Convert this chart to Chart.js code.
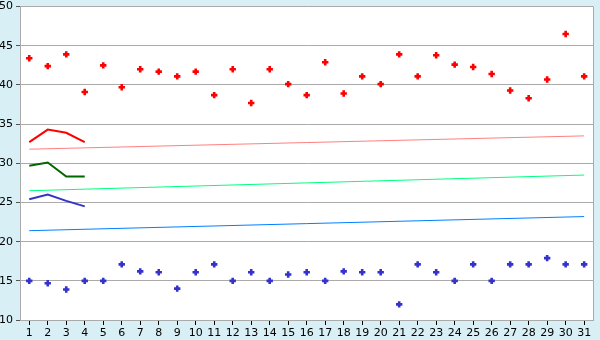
<!DOCTYPE html>
<html lang="en">
<head>
    <meta charset="UTF-8">
    <title>Daily readings</title>
    <script src="https://cdn.jsdelivr.net/npm/chart.js"></script>
    <style>
        html, body { margin: 0; padding: 0; background: #d8eff5; }
        #wrap { width: 600px; height: 340px; }
    </style>
</head>
<body>
    <div id="wrap"><canvas id="chart" width="600" height="340"></canvas></div>

    <script>
        // days along the bottom
        var days = [];
        for (var d = 1; d <= 31; d++) days.push(String(d));

        // scattered daily highs and lows
        var highs = [43.4, 42.4, 43.9, 39.1, 42.5, 39.7, 42.0, 41.7, 41.1, 41.7,
                     38.7, 42.0, 37.7, 42.0, 40.1, 38.7, 42.9, 38.9, 41.1, 40.1,
                     43.9, 41.1, 43.8, 42.6, 42.3, 41.4, 39.3, 38.3, 40.7, 46.5, 41.1];
        var lows = [15.0, 14.7, 13.9, 15.0, 15.0, 17.1, 16.2, 16.1, 14.0, 16.1,
                    17.1, 15.0, 16.1, 15.0, 15.8, 16.1, 15.0, 16.2, 16.1, 16.1,
                    12.0, 17.1, 16.1, 15.0, 17.1, 15.0, 17.1, 17.1, 17.9, 17.1, 17.1];

        // first four days of the running lines
        var redLine = [32.7, 34.3, 33.9, 32.7];
        var greenLine = [29.7, 30.1, 28.3, 28.3];
        var blueLine = [25.4, 26.0, 25.2, 24.5];

        // trend lines: value at day 1 and at day 31
        var pinkTrend = [31.8, 33.5];
        var mintTrend = [26.5, 28.5];
        var skyTrend = [21.4, 23.2];

        var yTicks = [10, 15, 20, 25, 30, 35, 40, 45, 50];

        function ends(pair) {
            return [{ x: days[0], y: pair[0] }, { x: days[days.length - 1], y: pair[1] }];
        }

        var frame = {
            id: 'frame',
            beforeDraw: function (chart) {
                var a = chart.chartArea, c = chart.ctx;
                c.save();
                c.fillStyle = '#ffffff';
                c.fillRect(a.left, a.top, a.right - a.left, a.bottom - a.top);
                c.restore();
            },
            afterDraw: function (chart) {
                var a = chart.chartArea, c = chart.ctx;
                c.save();
                c.strokeStyle = '#aaaaaa';
                c.lineWidth = 1;
                c.beginPath();
                c.moveTo(Math.round(a.right) + 0.5, a.top);
                c.lineTo(Math.round(a.right) + 0.5, a.bottom);
                c.stroke();
                c.restore();
            }
        };

        function thinLine(data, color) {
            return { type: 'line', data: data, borderColor: color, borderWidth: 1,
                     pointRadius: 0, fill: false, order: 5 };
        }
        function thickLine(data, color) {
            return { type: 'line', data: data, borderColor: color, borderWidth: 2,
                     pointRadius: 0, fill: false, order: 3 };
        }
        function dots(data, color) {
            return { type: 'line', data: data, showLine: false, pointStyle: 'cross',
                     pointRadius: 3.2, pointBorderWidth: 2.6, borderColor: color,
                     backgroundColor: color, order: 1 };
        }

        new Chart(document.getElementById('chart').getContext('2d'), {
            type: 'line',
            data: {
                labels: days,
                datasets: [
                    dots(highs, '#ff0000'),
                    dots(lows, '#3333cc'),
                    thickLine(redLine, '#ff0000'),
                    thickLine(greenLine, '#006600'),
                    thickLine(blueLine, '#3333cc'),
                    thinLine(ends(pinkTrend), '#ff8080'),
                    thinLine(ends(mintTrend), '#00ff80'),
                    thinLine(ends(skyTrend), '#0080ff')
                ]
            },
            options: {
                responsive: false,
                animation: false,
                layout: { padding: { top: 5, right: 3, left: 0, bottom: 0 } },
                plugins: { legend: { display: false }, tooltip: { enabled: false } },
                scales: {
                    x: {
                        offset: true,
                        grid: { drawOnChartArea: false, tickLength: 5, tickColor: '#000000' },
                        border: { color: '#aaaaaa' },
                        ticks: { color: '#000000', padding: 2, maxRotation: 0, autoSkip: false,
                                 font: { family: 'DejaVu Sans', size: 11 } },
                        afterFit: function (s) { s.height = 20; s.paddingLeft = 0; s.paddingRight = 0; }
                    },
                    y: {
                        min: 10, max: 50,
                        afterBuildTicks: function (s) { s.ticks = yTicks.map(function (v) { return { value: v }; }); },
                        grid: { color: '#aaaaaa', tickLength: 4, tickColor: '#555555' },
                        border: { color: '#aaaaaa' },
                        ticks: { color: '#000000', padding: 3,
                                 font: { family: 'DejaVu Sans', size: 11 } },
                        afterFit: function (s) { s.width = 20; s.paddingTop = 0; s.paddingBottom = 0; }
                    }
                }
            },
            plugins: [frame]
        });
    </script>
</body>
</html>
